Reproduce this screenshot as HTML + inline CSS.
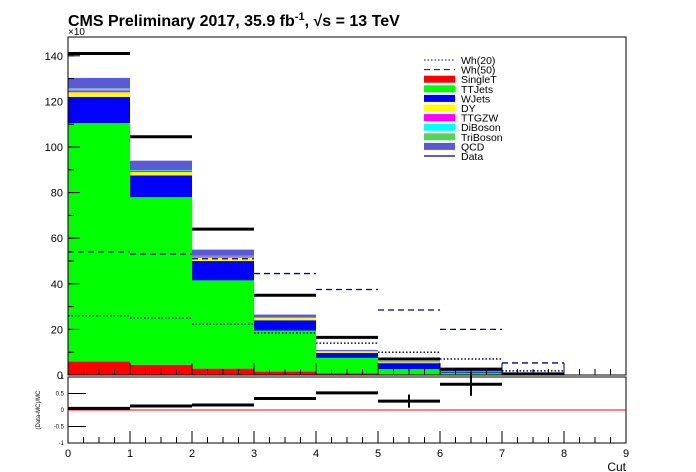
<!DOCTYPE html>
<html><head><meta charset="utf-8"><style>
body{margin:0;background:#fff}
svg{display:block;font-family:"Liberation Sans",sans-serif}
</style></head><body>
<svg id="c" width="696" height="472" xmlns="http://www.w3.org/2000/svg"></svg>
<script>
const bins=[0,1,2,3,4,5,6,7,8];
const singleT=[6,4.5,2.8,1.5,0.8,0.3,0.1,0.05,0];
const ttJets=[104.5,73.5,38.7,18,6.7,2.3,0.9,0.2,0];
const wJets=[11.5,9.5,8.5,4.5,2.2,2.6,0.5,0.05,0];
const dy=[2,1.5,1.5,1,0.6,0.3,0.1,0,0];
const ttgzw=[0.8,0.5,0.5,0.2,0.1,0.1,0.05,0,0];
const diBoson=[0.7,0.2,0.2,0.1,0.1,0.1,0.05,0,0];
const triBoson=[0.2,0.1,0.1,0.1,0.05,0.05,0,0,0];
const qcd=[4.6,4.2,2.7,1.1,0.45,0.25,0.3,0.05,0];
const data=[141,104.5,64,35,16.5,7,2.6,0.5,0];
const wh20=[26,25,22.3,18.4,14,10,7,1.8,0];
const wh50=[54,53,51,44.5,37.5,28.5,20,5.3,0];
const ratio=[0.05,0.12,0.15,0.35,0.52,0.27,0.78,null,null];
const ratioErr=[0.01,0.01,0.01,0.01,0.02,0.2,0.35,0,0];
const yTicks=[0,20,40,60,80,100,120,140];
const rTicks=[-1,-0.5,0,0.5,1];
const xTicks=[0,1,2,3,4,5,6,7,8,9];

const svg=document.getElementById('c');const NS='http://www.w3.org/2000/svg';
function el(t,a,p){const e=document.createElementNS(NS,t);for(const k in a)e.setAttribute(k,a[k]);(p||svg).appendChild(e);return e;}
const X=v=>68+v*62, Y=v=>375-v*2.28, R=v=>410-v*33;
const layers=[[singleT,'#ff0000','singlet'],[ttJets,'#00ff00','ttjets'],[wJets,'#0000ff','wjets'],[dy,'#ffff00','dy'],[ttgzw,'#ff00ff','ttgzw'],[diBoson,'#00ffff','diboson'],[triBoson,'#55d555','triboson'],[qcd,'#5a5ad6','qcd']];
const g=el('g',{});
bins.forEach((b,i)=>{let base=0;layers.forEach(L=>{const v=L[0][i];if(v>0){const r=el('rect',{x:X(b),y:Y(base+v),width:62,height:Y(base)-Y(base+v),fill:L[1]},g);}base+=v;});});
bins.forEach((b,i)=>{
 let l;
 if(wh20[i]>0){l=el('line',{x1:X(b),x2:X(b+1),y1:Y(wh20[i]),y2:Y(wh20[i]),stroke:'#00008b','stroke-width':1.5,'stroke-dasharray':'1.5,2'});}
 if(wh50[i]>0){l=el('line',{x1:X(b),x2:X(b+1),y1:Y(wh50[i]),y2:Y(wh50[i]),stroke:'#00008b','stroke-width':1.3,'stroke-dasharray':'6,4'});}
 if(data[i]>0){l=el('line',{x1:X(b),x2:X(b+1),y1:Y(data[i]),y2:Y(data[i]),stroke:'#000','stroke-width':3});}
});
el('rect',{x:68,y:37,width:558,height:338,fill:'none',stroke:'#000'});
el('rect',{x:68,y:377,width:558,height:66,fill:'none',stroke:'#000'});
yTicks.forEach(t=>{el('line',{x1:68,x2:80,y1:Y(t),y2:Y(t),stroke:'#000'});const tx=el('text',{x:63,y:Y(t)+4,'text-anchor':'end','font-size':11});tx.textContent=t;});
for(let v=0;v<148;v+=10)el('line',{x1:68,x2:74,y1:Y(v),y2:Y(v),stroke:'#000'});
rTicks.forEach(t=>{el('line',{x1:68,x2:86,y1:R(t),y2:R(t),stroke:'#000'});const tx=el('text',{x:64,y:R(t)+2,'text-anchor':'end','font-size':6});tx.textContent=t;});
xTicks.forEach(t=>{el('line',{x1:X(t),x2:X(t),y1:443,y2:431,stroke:'#000'});el('line',{x1:X(t),x2:X(t),y1:375,y2:363,stroke:'#000'});const tx=el('text',{x:X(t),y:457,'text-anchor':'middle','font-size':11});tx.textContent=t;});
for(let v=0;v<9;v+=0.25){el('line',{x1:X(v),x2:X(v),y1:443,y2:437,stroke:'#000'});el('line',{x1:X(v),x2:X(v),y1:375,y2:369,stroke:'#000'});}
el('line',{x1:68,x2:626,y1:R(0),y2:R(0),stroke:'#ff0000'});
bins.forEach((b,i)=>{if(ratio[i]==null)return;
 let l=el('line',{x1:X(b),x2:X(b+1),y1:R(ratio[i]),y2:R(ratio[i]),stroke:'#000','stroke-width':3});
 el('line',{x1:X(b+0.5),x2:X(b+0.5),y1:R(ratio[i]+ratioErr[i]),y2:R(ratio[i]-ratioErr[i]),stroke:'#000','stroke-width':2});});
let t=el('text',{x:68,y:26,'font-size':16,'font-weight':'bold'});t.innerHTML='CMS Preliminary 2017, 35.9 fb<tspan dy="-6" font-size="11">-1</tspan><tspan dy="6">,  √s = 13 TeV</tspan>';
t=el('text',{x:68,y:35,'font-size':10});t.textContent='×10';
t=el('text',{x:626,y:471,'text-anchor':'end','font-size':12});t.textContent='Cut';
t=el('text',{x:0,y:0,'font-size':6,'text-anchor':'middle',transform:'translate(40,410) rotate(-90)'});t.textContent='(Data-MC)/MC';
const leg=[['Wh(20)','dot'],['Wh(50)','dash'],['SingleT','#ff0000'],['TTJets','#00ff00'],['WJets','#0000ff'],['DY','#ffff00'],['TTGZW','#ff00ff'],['DiBoson','#00ffff'],['TriBoson','#55d555'],['QCD','#5a5ad6'],['Data','line']];
leg.forEach((L,i)=>{const y=60+i*9.6;const lg=el('g',{});
 if(L[1]=='dot')el('line',{x1:424,x2:455,y1:y,y2:y,stroke:'#00008b','stroke-dasharray':'1.5,2'},lg);
 else if(L[1]=='dash')el('line',{x1:424,x2:455,y1:y,y2:y,stroke:'#00008b','stroke-dasharray':'6,4'},lg);
 else if(L[1]=='line')el('line',{x1:424,x2:455,y1:y,y2:y,stroke:'#00008b','stroke-width':1.3},lg);
 else el('rect',{x:424,y:y-3.5,width:31,height:7,fill:L[1]},lg);
 const tx=el('text',{x:461,y:y+4,'font-size':10.5},lg);tx.textContent=L[0];});
</script>
</body></html>
